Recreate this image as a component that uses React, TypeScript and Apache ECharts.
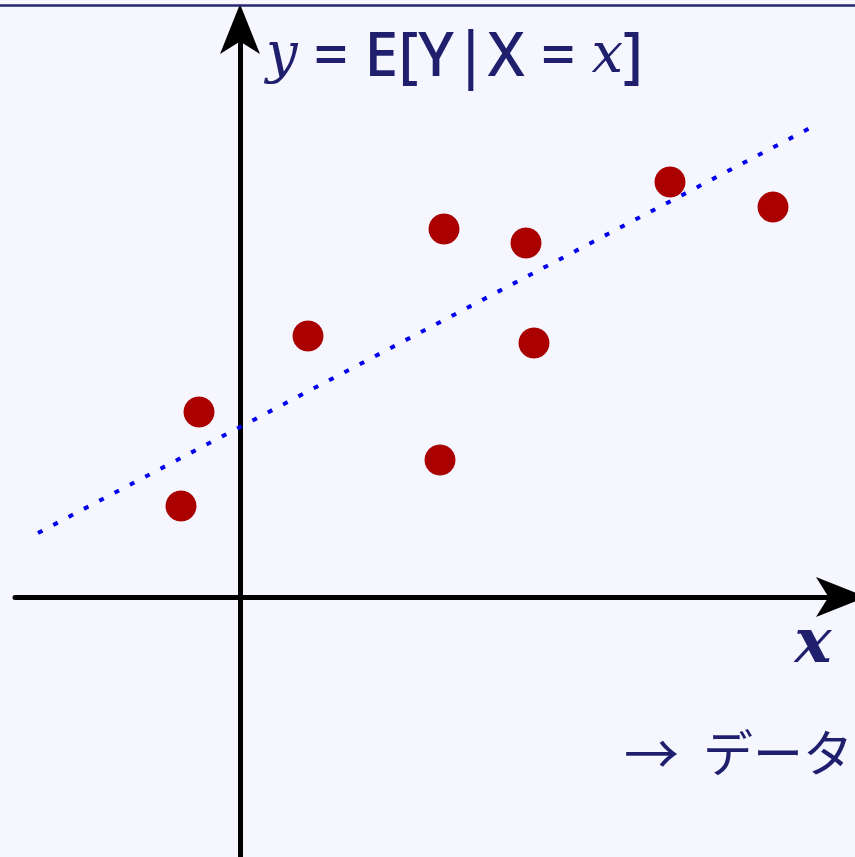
import React, { useEffect, useRef } from "react";
import * as echarts from "echarts";

// Observations (x, y) in axis units
const pointsX: number[] = [-1.18, -0.82, 1.36, 4.08, 4.0, 5.72, 5.88, 8.6, 10.66];
const pointsY: number[] = [1.82, 3.7, 5.22, 7.36, 2.74, 7.08, 5.08, 8.3, 7.8];

// Regression line y = E[Y|X = x] endpoints
const lineX: number[] = [-4.04, 11.4];
const lineY: number[] = [1.28, 9.38];

const yLabelText = "{i|y} = E[Y|X = {i|x}]";
const xLabelText = "x";
const noteText = "{a|→}{j|データ}";

const NAVY = "#1f1f6e";
const BG = "#f5f6fe";

export default function App() {
  const ref = useRef<HTMLDivElement>(null);

  useEffect(() => {
    document.body.style.margin = "0";
    if (!ref.current) return;
    const chart = echarts.init(ref.current, null, { renderer: "svg" });

    const scatterData = pointsX.map((x, i) => [x, pointsY[i]]);
    const lineData = lineX.map((x, i) => [x, lineY[i]]);

    const axisLine = {
      onZero: true,
      symbol: ["none", "arrow"],
      symbolSize: [30, 50],
      symbolOffset: [0, 25],
      lineStyle: { color: "#000", width: 5 },
    };

    chart.setOption({
      animation: false,
      backgroundColor: BG,
      grid: { left: 15, right: 14, top: 29, bottom: 0, containLabel: false },
      xAxis: {
        type: "value",
        min: -4.5,
        max: 12.02,
        axisLine,
        axisTick: { show: false },
        axisLabel: { show: false },
        splitLine: { show: false },
      },
      yAxis: {
        type: "value",
        min: -5.2,
        max: 11.36,
        axisLine,
        axisTick: { show: false },
        axisLabel: { show: false },
        splitLine: { show: false },
      },
      series: [
        {
          type: "line",
          data: lineData,
          symbol: "none",
          lineStyle: { color: "#0000ee", width: 4, type: [5, 12.3], cap: "butt" },
          z: 3,
        },
        {
          type: "scatter",
          data: scatterData,
          symbolSize: 31,
          itemStyle: { color: "#aa0000", opacity: 1 },
          z: 4,
        },
      ],
      graphic: [
        {
          type: "line",
          shape: { x1: 0, y1: 5.5, x2: 855, y2: 5.5 },
          style: { stroke: "#262670", lineWidth: 2.5 },
          z: 10,
        },
        {
          type: "text",
          x: 266,
          y: 52,
          z: 10,
          style: {
            text: yLabelText,
            fill: NAVY,
            font: "500 61px 'Noto Sans'",
            verticalAlign: "middle",
            align: "left",
            rich: {
              i: { fontFamily: "DejaVu Serif", fontStyle: "italic", fontSize: 56, fill: NAVY },
            },
          },
        },
        {
          type: "text",
          x: 813,
          y: 640,
          z: 10,
          style: {
            text: xLabelText,
            fill: NAVY,
            font: "italic bold 62px 'DejaVu Serif'",
            align: "center",
            verticalAlign: "middle",
          },
        },
        {
          type: "text",
          x: 624,
          y: 750,
          z: 10,
          style: {
            text: noteText,
            fill: NAVY,
            font: "50px 'Noto Sans CJK JP'",
            align: "left",
            verticalAlign: "middle",
            rich: {
              a: { fontFamily: "Noto Sans CJK JP", fontSize: 55, width: 79, fill: NAVY },
              j: { fontFamily: "Noto Sans CJK JP", fontSize: 50, fill: NAVY },
            },
          },
        },
      ],
    });

    return () => chart.dispose();
  }, []);

  return <div ref={ref} style={{ width: 855, height: 857, background: BG }} />;
}
